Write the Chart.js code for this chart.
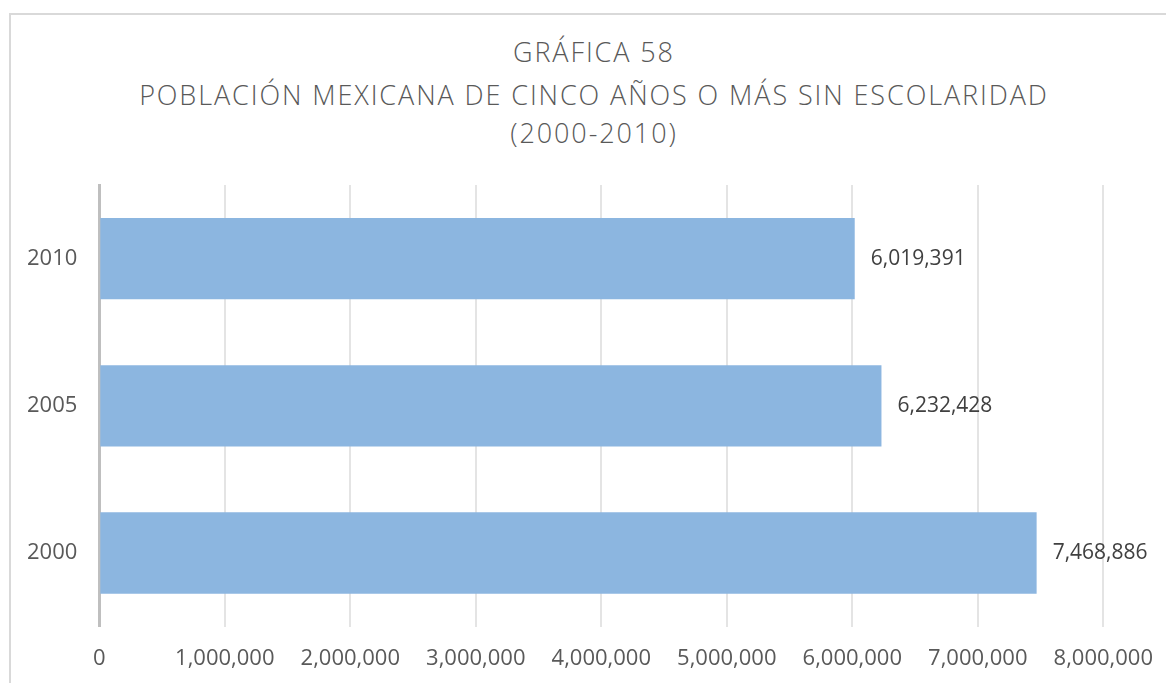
<!DOCTYPE html>
<html>
<head>
<meta charset="utf-8">
<script src="https://cdn.jsdelivr.net/npm/chart.js@4.4.1/dist/chart.umd.min.js"></script>
<style>
  html, body { margin: 0; padding: 0; background: #fff; overflow: hidden; }
  #marco {
    position: absolute; left: 9px; top: 13px; width: 1170px; height: 680px;
    border: 2px solid #d9d9d9; box-sizing: border-box;
  }
  #contenedor { position: absolute; left: 0; top: 0; width: 1172px; height: 683px; }
  .titulo {
    position: absolute; left: 0; width: 1186px; height: 40px; line-height: 40px;
    text-align: center; font-family: "Open Sans", sans-serif; font-size: 27px; font-weight: 300;
    letter-spacing: 1.9px; padding-left: 1.9px; box-sizing: border-box;
    color: #595959; white-space: nowrap;
  }
</style>
</head>
<body>
<div id="marco"></div>
<div id="titulo"></div>
<div id="contenedor"><canvas id="grafica"></canvas></div>
<script>
  // Datos de la gráfica
  const anios = ['2010', '2005', '2000'];
  const poblacion = [6019391, 6232428, 7468886];
  const tituloLineas = ['GRÁFICA 58', 'POBLACIÓN MEXICANA DE CINCO AÑOS O MÁS SIN ESCOLARIDAD', '(2000-2010)'];
  const ejeMaximo = 8000000;
  const ejePaso = 1000000;

  // Título (texto real en HTML, con espaciado entre letras)
  const tituloTops = [32, 75, 113];
  tituloLineas.forEach((linea, i) => {
    const div = document.createElement('div');
    div.className = 'titulo';
    div.style.top = tituloTops[i] + 'px';
    div.textContent = linea;
    document.getElementById('titulo').appendChild(div);
  });

  function formatoNumero(valor) {
    return valor.toLocaleString('en-US');
  }

  // Etiquetas de valor al final de cada barra
  const etiquetasValor = {
    id: 'etiquetasValor',
    afterDatasetsDraw(chart) {
      const ctx = chart.ctx;
      const meta = chart.getDatasetMeta(0);
      ctx.save();
      ctx.font = '21px "Open Sans", sans-serif';
      ctx.fillStyle = '#404040';
      ctx.textAlign = 'left';
      ctx.textBaseline = 'middle';
      meta.data.forEach((barra, i) => {
        ctx.fillText(formatoNumero(poblacion[i]), barra.x + 16, barra.y);
      });
      ctx.restore();
    }
  };

  const ctx = document.getElementById('grafica').getContext('2d');
  new Chart(ctx, {
    type: 'bar',
    data: {
      labels: anios,
      datasets: [{
        data: poblacion,
        backgroundColor: '#8cb6e0',
        borderWidth: 0,
        categoryPercentage: 1,
        barPercentage: 0.552
      }]
    },
    options: {
      indexAxis: 'y',
      responsive: true,
      maintainAspectRatio: false,
      animation: false,
      layout: {
        padding: { top: 185, right: 57, bottom: -8, left: 5 }
      },
      plugins: {
        legend: { display: false },
        tooltip: { enabled: false },
        title: { display: false }
      },
      scales: {
        x: {
          min: 0,
          max: ejeMaximo,
          ticks: {
            stepSize: ejePaso,
            color: '#595959',
            font: { family: '"Open Sans", sans-serif', size: 22 },
            padding: 19,
            callback: function (valor) { return formatoNumero(valor); }
          },
          grid: { color: '#e4e4e4', lineWidth: 2, drawTicks: false },
          border: { display: false }
        },
        y: {
          ticks: {
            color: '#595959',
            font: { family: '"Open Sans", sans-serif', size: 22 },
            padding: 22
          },
          grid: { display: false, drawTicks: false },
          border: { display: true, color: '#bfbfbf', width: 3 }
        }
      }
    },
    plugins: [etiquetasValor]
  });
</script>
</body>
</html>
